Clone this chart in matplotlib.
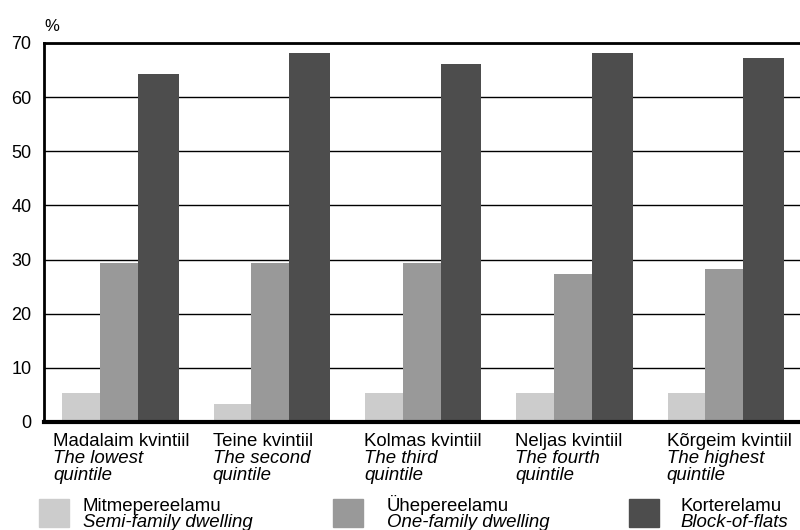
import numpy as np
import matplotlib.pyplot as plt

plt.rcParams['font.family'] = ['Liberation Sans', 'DejaVu Sans']

kvintiilid = ["Madalaim kvintiil", "Teine kvintiil", "Kolmas kvintiil",
              "Neljas kvintiil", "Kõrgeim kvintiil"]
quint_rida1 = ["The lowest", "The second", "The third", "The fourth", "The highest"]
quint_rida2 = ["quintile"] * 5

mitmepere = [5.3, 3.3, 5.3, 5.3, 5.3]
uhepere = [29.4, 29.4, 29.4, 27.3, 28.3]
korter = [64.3, 68.2, 66.1, 68.2, 67.2]

sari_et = ["Mitmepereelamu", "Ühepereelamu", "Korterelamu"]
sari_en = ["Semi-family dwelling", "One-family dwelling", "Block-of-flats"]
varvid = ["#cccccc", "#999999", "#4d4d4d"]

x = np.arange(len(kvintiilid))
fs = 13.4

fig = plt.figure(figsize=(8, 5.3), dpi=100)
ax = fig.add_axes([0.055, 0.2038, 0.945, 0.7151])

ax.bar(x - 0.25, mitmepere, width=0.25, color=varvid[0], zorder=3)
ax.bar(x, uhepere, width=0.25, color=varvid[1], zorder=3)
ax.bar(x + 0.26, korter, width=0.27, color=varvid[2], zorder=3)

ax.set_xlim(-0.495, 4.5)
ax.set_ylim(0, 70)
ax.set_yticks(range(0, 71, 10))
ax.set_xticks([])
ax.tick_params(axis='y', length=0, pad=9, labelsize=13)
ax.grid(axis='y', color='black', linewidth=1, zorder=0)

ax.spines['right'].set_visible(False)
ax.spines['top'].set_linewidth(2)
ax.spines['left'].set_linewidth(2)
ax.spines['bottom'].set_linewidth(3)
ax.spines['bottom'].set_zorder(5)

ax.text(-0.495, 73.0, "%", fontsize=12, va='center', ha='left')

# category labels under the groups (baselines in pixels below the zero line)
nihe = [-0.436, -0.38, -0.38, -0.38, -0.38]
px = 379 / 70
for i in range(len(kvintiilid)):
    ax.text(x[i] + nihe[i], -24 / px, kvintiilid[i], fontsize=fs,
            ha='left', va='baseline')
    ax.text(x[i] + nihe[i], -41 / px, quint_rida1[i], fontsize=fs,
            style='italic', ha='left', va='baseline')
    ax.text(x[i] + nihe[i], -58 / px, quint_rida2[i], fontsize=fs,
            style='italic', ha='left', va='baseline')

# legend
kastid_x = [39, 333, 629]
tekst_x = [83, 387, 680]
for i in range(3):
    fig.patches.append(plt.Rectangle((kastid_x[i] / 800, 3 / 530), 30 / 800, 28 / 530,
                                     transform=fig.transFigure, color=varvid[i]))
    fig.text(tekst_x[i] / 800, 1 - 511 / 530, sari_et[i], fontsize=fs,
             va='baseline', ha='left')
    fig.text(tekst_x[i] / 800, 1 - 527 / 530, sari_en[i], fontsize=fs,
             va='baseline', ha='left', style='italic')

plt.savefig("out.png", dpi=100)
